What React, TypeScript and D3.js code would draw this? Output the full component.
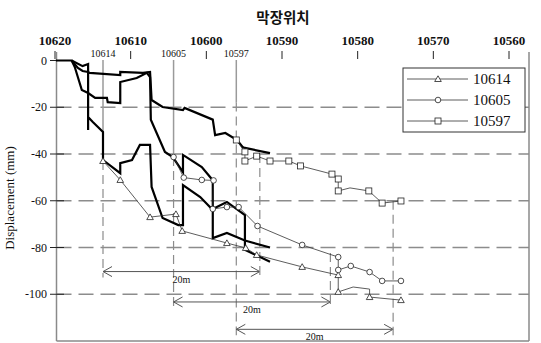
import React from "react";
import * as d3 from "d3";

// Face position (top axis) and displacement (left axis)
const xTicks = [10620, 10610, 10600, 10590, 10580, 10570, 10560];
const yTicks = [0, -20, -40, -60, -80, -100];
const gridValues = [-20, -40, -60, -80, -100];

// Measuring stations
const stations = [10614, 10605, 10597];
const stationNames = ["10614", "10605", "10597"];

// Measured displacement per station: [face position, displacement, marker?]
const s10614: [number, number, number][] = [
  [10614, -43, 1], [10611.8, -51.1, 1], [10608, -67, 1], [10604.7, -65.7, 1],
  [10603.9, -72.9, 1], [10598.2, -78.1, 1], [10595.8, -80.2, 1], [10594.4, -83.2, 1],
  [10588.6, -88.3, 1], [10584, -91.8, 1], [10584, -99, 1], [10582.1, -96.9, 0],
  [10580, -97.8, 0], [10580, -101.2, 1], [10576, -102.5, 1],
];
const s10605: [number, number, number][] = [
  [10605, -41.3, 1], [10603.7, -50.1, 1], [10601.4, -51.1, 1], [10599.9, -51.3, 1],
  [10600, -63.5, 1], [10598.2, -62.7, 1], [10596.7, -62.7, 1], [10594.3, -70.8, 1],
  [10588.6, -78.9, 1], [10584, -84.1, 1], [10584, -89.6, 1], [10582.4, -87.9, 1],
  [10580, -90.5, 1], [10578.4, -94.3, 1], [10576, -94.3, 1],
];
const s10597: [number, number, number][] = [
  [10597, -34, 1], [10595.9, -39.1, 1], [10595.9, -43, 1], [10594.4, -40.9, 1],
  [10592.7, -43, 1], [10590.3, -43, 1], [10588.8, -45.1, 1], [10584.8, -48.6, 1],
  [10584, -50.7, 1], [10584, -55.8, 1], [10582.5, -54.5, 0], [10580.1, -55.8, 1],
  [10578.4, -61, 1], [10576, -60.1, 1],
];

// Heavy trend lines
const trendTop: [number, number][] = [
  [10620, 0], [10618, 0], [10617.2, -3.2], [10616.6, -4.5], [10615.9, -4.9], [10615.7, -5.3],
  [10611.8, -6.2], [10611.8, -4.9], [10608.9, -5.3], [10608, -4.9], [10607.8, -16.9],
  [10606.4, -19.9], [10603.8, -21.2], [10603.6, -20.3], [10600, -25.3], [10599.7, -31.9],
  [10598.4, -31.0], [10596.9, -34.0], [10596.2, -37.0], [10595.9, -37.4], [10592.7, -39.6],
];
const trendMid: [number, number][] = [
  [10618, 0], [10617.6, -2.8], [10616.7, -12.6], [10615.9, -13.9], [10615, -16], [10613.5, -16],
  [10613.4, -17.8], [10611.8, -18.2], [10611.8, -9.2], [10609.7, -7.5], [10608.4, -5.3],
  [10608, -7.1], [10607.9, -25.3], [10606.1, -39.1], [10605.1, -41.3], [10603.8, -47.8],
  [10603.8, -40.4], [10601.4, -45.6], [10600, -51.2], [10600, -63.5], [10598.2, -60.5],
  [10595.9, -66.1], [10595.9, -81], [10592.7, -86.1],
];
const trendLow: [number, number][] = [
  [10618, 0], [10616.6, -2.4], [10615.9, -1.5], [10615.9, -29.7], [10615.9, -24.2],
  [10615.3, -26.3], [10614, -30.6], [10614, -42.6], [10611.8, -48.2], [10611.8, -43.9],
  [10610.3, -42.6], [10609.3, -36.1], [10608, -36.1], [10607.8, -54.1], [10606.4, -67.4],
  [10604.4, -70.4], [10603.8, -70.4], [10603.8, -53.3], [10601.6, -58.4], [10600, -63.9],
  [10600, -76], [10598.2, -73.8], [10595.9, -77], [10592.7, -80],
];

// 20 m spans of face advance below each station
const spanLevels = [-90.3, -103.3, -115];
const spanEndTops = [-40, -82.3, -60];
const spanLength = 20;

const legendItems = [
  { name: "10614", shape: "triangle" },
  { name: "10605", shape: "circle" },
  { name: "10597", shape: "square" },
];

const W = 541;
const H = 343;

// data scale (stations, series, spans)
const x = d3.scaleLinear().domain([10614, 10597]).range([103, 236.3]);
// top axis labelling
const xAxis = d3.scaleLinear().domain([10620, 10560]).range([55, 509]);
const y = d3.scaleLinear().domain([0, -120]).range([60.5, 341]);

const serif = "'Liberation Serif', 'Times New Roman', serif";
const gridColor = "#8c8c8c";

function Marker({ shape, cx, cy }: { shape: string; cx: number; cy: number }) {
  const common = { fill: "white", stroke: "#222", strokeWidth: 0.8 };
  if (shape === "triangle") {
    const p = d3.path();
    p.moveTo(cx, cy - 3.2);
    p.lineTo(cx + 3.3, cy + 2.5);
    p.lineTo(cx - 3.3, cy + 2.5);
    p.closePath();
    return <path d={p.toString()} {...common} />;
  }
  if (shape === "circle") return <circle cx={cx} cy={cy} r={2.8} {...common} />;
  return <rect x={cx - 3} y={cy - 3} width={6} height={6} {...common} />;
}

function Series({ data, shape }: { data: [number, number, number][]; shape: string }) {
  const line = d3.line<[number, number, number]>().x((d) => x(d[0])).y((d) => y(d[1]));
  return (
    <g>
      <path d={line(data) ?? ""} fill="none" stroke="#333" strokeWidth={0.8} />
      {data
        .filter((d) => d[2] === 1)
        .map((d, i) => (
          <Marker key={i} shape={shape} cx={x(d[0])} cy={y(d[1])} />
        ))}
    </g>
  );
}

function Span({ from, level, endTop }: { from: number; level: number; endTop: number }) {
  const x0 = x(from);
  const x1 = x(from - spanLength);
  const yy = y(level);
  const head = (xe: number, dir: number) => {
    const p = d3.path();
    p.moveTo(xe + dir * 9, yy - 5);
    p.lineTo(xe, yy);
    p.lineTo(xe + dir * 9, yy + 5);
    return p.toString();
  };
  return (
    <g stroke="#555" fill="none">
      <line x1={x0} x2={x1} y1={yy} y2={yy} strokeWidth={1} />
      <path d={head(x0, 1)} strokeWidth={1} />
      <path d={head(x1, -1)} strokeWidth={1} />
      <line
        x1={x1} x2={x1} y1={y(endTop)} y2={yy + 6}
        stroke={gridColor} strokeWidth={1.2} strokeDasharray="9,5"
      />
      <text
        x={(x0 + x1) / 2} y={yy + 11} fontSize={10} fontFamily={serif}
        textAnchor="middle" fill="#111" stroke="none"
      >
        20m
      </text>
    </g>
  );
}

export default function App() {
  const thick = d3.line<[number, number]>().x((d) => x(d[0])).y((d) => y(d[1]));
  const firstMarkers = [s10614[0][1], s10605[0][1], -18];
  const plotLeft = 56.5;
  const plotRight = 529;
  const plotBottom = y(-120);

  return (
    <svg
      width={W}
      height={H}
      style={{ position: "absolute", left: 0, top: 0, background: "white" }}
    >
      {/* title */}
      <text x={283} y={23} fontSize={14.5} fontWeight="bold" textAnchor="middle"
        fontFamily="'Noto Sans CJK KR', sans-serif" fill="#111">
        막장위치
      </text>

      {/* top axis */}
      {xTicks.map((t) => (
        <g key={t}>
          <line x1={xAxis(t)} x2={xAxis(t)} y1={51} y2={59} stroke="#222" strokeWidth={1} />
          <text x={xAxis(t)} y={45} fontSize={13} fontWeight="bold" textAnchor="middle"
            fontFamily={serif} fill="#111">
            {t}
          </text>
        </g>
      ))}

      {/* horizontal grid */}
      {gridValues.map((g) => (
        <line key={g} x1={plotLeft} x2={plotRight} y1={y(g)} y2={y(g)}
          stroke={gridColor} strokeWidth={1.3} strokeDasharray="15,7" />
      ))}

      {/* station lines */}
      {stations.map((s, i) => (
        <g key={s}>
          <line x1={x(s)} x2={x(s)} y1={60} y2={y(firstMarkers[i])}
            stroke="#9a9a9a" strokeWidth={1.5} />
          <line x1={x(s)} x2={x(s)} y1={y(firstMarkers[i])} y2={y(spanLevels[i]) + 6}
            stroke={gridColor} strokeWidth={1.2} strokeDasharray="9,5" />
          <text x={x(s)} y={57} fontSize={10} textAnchor="middle" fontFamily={serif}
            fill="#111" stroke="white" strokeWidth={3} paintOrder="stroke">
            {stationNames[i]}
          </text>
        </g>
      ))}

      {/* left axis */}
      <line x1={plotLeft} x2={plotLeft} y1={52} y2={plotBottom} stroke="#8a8a8a" strokeWidth={1.5} />
      {yTicks.map((t) => (
        <g key={t}>
          <line x1={50} x2={64} y1={y(t)} y2={y(t)} stroke="#222" strokeWidth={1} />
          <text x={47} y={y(t) + 4} fontSize={12} textAnchor="end" fontFamily={serif} fill="#111">
            {t}
          </text>
        </g>
      ))}
      <text transform={`translate(14,${198}) rotate(-90)`} fontSize={13} textAnchor="middle"
        fontFamily={serif} fill="#111">
        Displacement  (mm)
      </text>

      {/* frame right / bottom */}
      <line x1={plotRight} x2={plotRight} y1={52} y2={plotBottom} stroke="#8a8a8a" strokeWidth={1.5} />
      <line x1={plotLeft} x2={plotRight} y1={plotBottom} y2={plotBottom} stroke="#8a8a8a" strokeWidth={1.5} />

      {/* spans */}
      {stations.map((s, i) => (
        <Span key={s} from={s} level={spanLevels[i]} endTop={spanEndTops[i]} />
      ))}

      {/* heavy lines */}
      {[trendTop, trendMid, trendLow].map((d, i) => (
        <path key={i} d={thick(d) ?? ""} fill="none" stroke="#000" strokeWidth={2.2}
          strokeLinejoin="miter" />
      ))}

      {/* measured series */}
      <Series data={s10614} shape="triangle" />
      <Series data={s10605} shape="circle" />
      <Series data={s10597} shape="square" />

      {/* legend */}
      <g>
        <rect x={403} y={68} width={122} height={64} fill="white" stroke="#333" strokeWidth={1} />
        {legendItems.map((it, i) => {
          const ly = 79 + i * 21;
          return (
            <g key={it.name}>
              <line x1={407} x2={468} y1={ly} y2={ly} stroke="#333" strokeWidth={0.8} />
              <Marker shape={it.shape} cx={438} cy={ly} />
              <text x={473} y={ly + 5} fontSize={15} fontFamily={serif} fill="#111">
                {it.name}
              </text>
            </g>
          );
        })}
      </g>
    </svg>
  );
}
